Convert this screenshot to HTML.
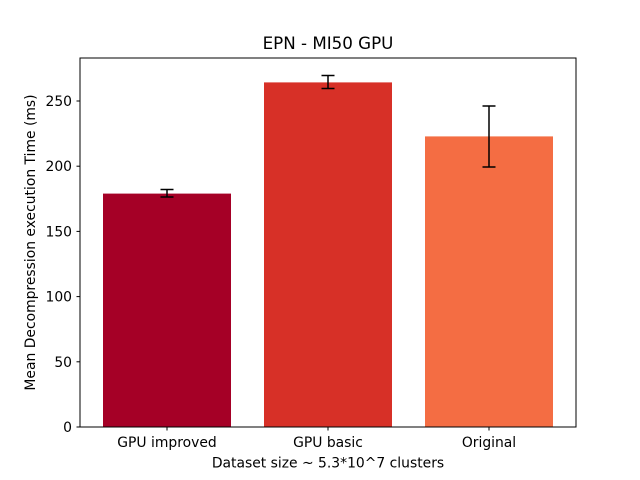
<!DOCTYPE html>
<html><head><style>body{margin:0;background:#fff}svg{display:block}text{font-family:"DejaVu Sans","Liberation Sans",sans-serif;fill:#000}</style></head><body>
<svg width="640" height="480" viewBox="0 0 640 480" xmlns="http://www.w3.org/2000/svg">
<rect width="640" height="480" fill="#fff"/>
<rect x="103" y="193.6" width="128" height="233.4" fill="#a50026"/>
<rect x="264" y="82.4" width="128" height="344.6" fill="#d73027"/>
<rect x="425" y="136.4" width="128" height="290.6" fill="#f46d43"/>
<g stroke="#000" stroke-width="1.5">
<line x1="167" y1="189.5" x2="167" y2="197"/><line x1="160.5" y1="189.5" x2="173.5" y2="189.5"/><line x1="160.5" y1="197" x2="173.5" y2="197"/>
<line x1="328" y1="75.5" x2="328" y2="88.5"/><line x1="321.5" y1="75.5" x2="334.5" y2="75.5"/><line x1="321.5" y1="88.5" x2="334.5" y2="88.5"/>
<line x1="489" y1="106" x2="489" y2="167"/><line x1="482.5" y1="106" x2="495.5" y2="106"/><line x1="482.5" y1="167" x2="495.5" y2="167"/>
</g>
<rect x="80" y="58" width="496" height="369" fill="none" stroke="#000" stroke-width="1"/>
<g stroke="#000" stroke-width="1">
<line x1="80" y1="427" x2="76.5" y2="427"/><line x1="80" y1="361.8" x2="76.5" y2="361.8"/><line x1="80" y1="296.6" x2="76.5" y2="296.6"/><line x1="80" y1="231.4" x2="76.5" y2="231.4"/><line x1="80" y1="166.2" x2="76.5" y2="166.2"/><line x1="80" y1="101" x2="76.5" y2="101"/>
<line x1="167" y1="427" x2="167" y2="430.5"/><line x1="328" y1="427" x2="328" y2="430.5"/><line x1="489" y1="427" x2="489" y2="430.5"/>
</g>
<g font-size="13.9" text-anchor="end">
<text x="72" y="432">0</text><text x="72" y="366.8">50</text><text x="72" y="301.6">100</text><text x="72" y="236.4">150</text><text x="72" y="171.2">200</text><text x="72" y="106">250</text>
</g>
<g font-size="13.9" text-anchor="middle">
<text x="167" y="447">GPU improved</text><text x="328" y="447">GPU basic</text><text x="489" y="447">Original</text>
<text x="328" y="467.5">Dataset size ~ 5.3*10^7 clusters</text>
<text x="328" y="49" font-size="16.7">EPN - MI50 GPU</text>
<text transform="translate(35,242.5) rotate(-90)">Mean Decompression execution Time (ms)</text>
</g>
</svg>
</body></html>
